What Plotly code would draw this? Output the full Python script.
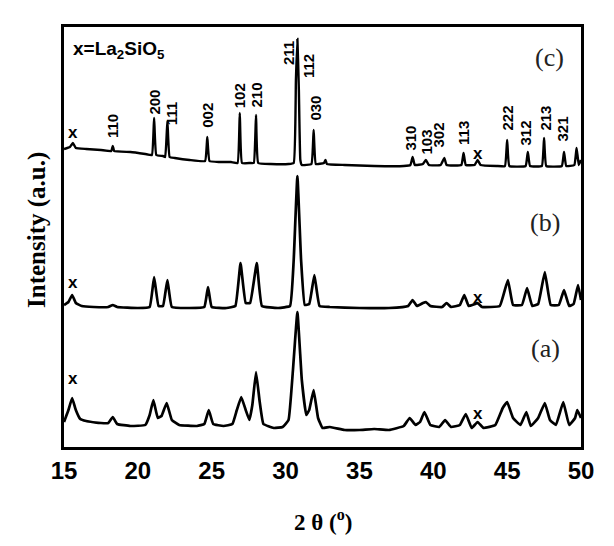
import plotly.graph_objects as go

# 2-theta positions (deg) and intensities (a.u.)
c_x = [15.0, 15.4, 15.6, 15.8, 16.5, 17.5, 18.2, 18.3, 18.4, 19.5, 20.5, 20.95, 21.1, 21.25, 21.7, 21.85, 22.0, 22.15,
       22.5, 23.5, 24.55, 24.7, 24.85, 25.5, 26.3, 26.75, 26.9, 27.05, 27.6, 27.85, 28.0, 28.15, 29.0, 30.2, 30.55,
       30.7, 30.8, 30.9, 31.0, 31.1, 31.75, 31.9, 32.05, 32.6, 32.7, 32.8, 34.0, 36.0, 38.0, 38.45, 38.6, 38.75,
       39.3, 39.5, 39.7, 40.5, 40.75, 40.9, 41.9, 42.05, 42.2, 42.8, 43.0, 43.2, 44.3, 44.85, 45.0, 45.15, 46.25,
       46.4, 46.55, 47.35, 47.5, 47.65, 48.7, 48.85, 49.0, 49.55, 49.7, 49.85, 50.0]
c_y = [298, 300, 304, 299, 298, 297, 296, 301, 296, 295, 293, 292, 329, 292, 291, 290, 326, 290,
       289, 287, 286, 310, 286, 285, 285, 284, 334, 284, 284, 284, 332, 284, 283, 283, 284,
       367, 408, 357, 287, 282, 283, 317, 283, 284, 287, 283, 282, 281, 281, 282, 290, 282,
       283, 287, 282, 282, 289, 282, 282, 294, 282, 282, 287, 282, 281, 281, 307, 281, 281,
       295, 281, 281, 309, 281, 281, 295, 281, 282, 299, 282, 287]

b_x = [15.0, 15.3, 15.55, 15.8, 16.2, 17.0, 18.0, 18.3, 18.6, 20.0, 20.8, 21.1, 21.4, 21.7, 22.0, 22.3, 23.5,
       24.5, 24.75, 25.0, 26.0, 26.6, 26.95, 27.3, 27.6, 28.05, 28.4, 29.5, 30.3, 30.55, 30.8, 31.05, 31.3,
       31.6, 31.95, 32.3, 33.0, 35.0, 37.0, 38.3, 38.6, 38.9, 39.3, 39.5, 39.8, 40.6, 40.9, 41.2, 41.8, 42.1,
       42.4, 43.0, 43.3, 44.5, 45.05, 45.4, 46.0, 46.35, 46.7, 47.1, 47.55, 47.95, 48.5, 48.85, 49.2, 49.5,
       49.8, 50.0]
b_y = [142, 145, 152, 144, 141, 140, 140, 142, 140, 139, 140, 170, 141, 141, 167, 140, 139,
       140, 160, 140, 139, 141, 184, 144, 144, 184, 141, 139, 141, 187, 271, 187, 142,
       143, 172, 141, 140, 139, 139, 141, 147, 141, 144, 145, 141, 140, 144, 140, 142, 152,
       141, 144, 140, 141, 167, 142, 142, 159, 141, 143, 175, 142, 142, 157, 141, 143,
       162, 147]

a_x = [15.0, 15.3, 15.55, 15.8, 16.1, 16.5, 17.5, 18.0, 18.3, 18.6, 19.5, 20.5, 20.8, 21.05, 21.35, 21.6,
       21.95, 22.3, 22.8, 24.0, 24.5, 24.8, 25.1, 25.8, 26.4, 26.7, 27.0, 27.3, 27.55, 27.75, 28.0, 28.25,
       28.5, 29.2, 29.8, 30.2, 30.5, 30.8, 31.1, 31.4, 31.6, 31.9, 32.2, 32.5, 33.0, 34.0, 35.0, 36.0, 37.0,
       38.0, 38.4, 38.8, 39.1, 39.4, 39.8, 40.4, 40.8, 41.2, 41.8, 42.2, 42.6, 43.0, 43.4, 44.2, 44.7, 45.0,
       45.4, 45.9, 46.3, 46.6, 47.1, 47.55, 47.9, 48.3, 48.8, 49.2, 49.6, 49.75, 50.0]
a_y = [25, 37, 49, 37, 28, 26, 24, 24, 30, 23, 21, 22, 32, 47, 29, 31,
       44, 27, 22, 21, 23, 37, 23, 21, 23, 37, 50, 37, 27, 42, 75, 45,
       23, 19, 20, 27, 77, 135, 67, 32, 37, 57, 29, 19, 20, 17, 17, 18, 17,
       21, 29, 22, 25, 35, 22, 20, 27, 20, 22, 33, 19, 25, 19, 22, 39, 45,
       29, 22, 35, 21, 29, 44, 27, 22, 45, 22, 29, 37, 29]

hkl_labels = ["110", "200", "111", "002", "102", "210", "211", "112", "030",
              "310", "103", "302", "113", "222", "312", "213", "321"]
hkl_x = [18.25, 21.1, 22.3, 24.7, 26.9, 28.0, 30.17, 31.52, 32.0,
         38.43, 39.51, 40.32, 42.01, 44.99, 46.21, 47.57, 48.78]
hkl_y = [307, 330, 320, 317, 337, 337, 380, 367, 324,
         294, 290, 297, 300, 314, 299, 314, 304]

impurity_x = [15.6, 43.0, 15.6, 43.0, 15.6, 43.0]
impurity_y = [315, 294, 165, 150, 69, 34]

sample_labels = ["(c)", "(b)", "(a)"]
sample_y = [390, 225, 99]
sample_x = [47.9, 47.57, 47.57]

fig = go.Figure()
for xs, ys, w in [(a_x, a_y, 2.7), (b_x, b_y, 2.7), (c_x, c_y, 2.4)]:
    fig.add_trace(go.Scatter(x=xs, y=ys, mode="lines",
                             line=dict(color="black", width=w, shape="spline", smoothing=0.3),
                             showlegend=False, hoverinfo="skip"))

bold_sans = dict(family="Liberation Sans, Arial, sans-serif", color="black", weight="bold")
serif = dict(family="Liberation Serif, Times New Roman, serif", color="black", weight="bold")

for lab, x, y in zip(hkl_labels, hkl_x, hkl_y):
    fig.add_annotation(x=x, y=y, text=lab, textangle=-90, showarrow=False,
                       xanchor="center", yanchor="bottom", font=dict(size=15, **bold_sans))

for x, y in zip(impurity_x, impurity_y):
    fig.add_annotation(x=x, y=y, text="x", showarrow=False, xanchor="center", yanchor="middle",
                       font=dict(size=17, **bold_sans))

for lab, x, y in zip(sample_labels, sample_x, sample_y):
    fig.add_annotation(x=x, y=y, text=lab, showarrow=False, xanchor="center", yanchor="middle",
                       font=dict(size=26, family="Liberation Serif, Times New Roman, serif", color="#222"))

fig.add_annotation(xref="paper", yref="paper", x=0.014, y=0.945, xanchor="left", yanchor="middle",
                   text="x=La<sub>2</sub>SiO<sub>5</sub>", showarrow=False, font=dict(size=19, **bold_sans))

fig.add_annotation(xref="paper", yref="paper", x=-0.052, y=0.517, xanchor="center", yanchor="middle",
                   text="Intensity (a.u.)", textangle=-90, showarrow=False, font=dict(size=25, **serif))
fig.add_annotation(xref="paper", yref="paper", x=0.5, y=-0.174, xanchor="center", yanchor="middle",
                   text="2 θ (<sup>o</sup>)", showarrow=False, font=dict(size=23, **serif))

fig.update_xaxes(range=[15, 50], tickvals=[15, 20, 25, 30, 35, 40, 45, 50], ticks="",
                 showline=True, mirror=True, linecolor="black", linewidth=2.5,
                 showgrid=False, zeroline=False, tickfont=dict(size=24, **bold_sans))
fig.update_yaxes(range=[0, 420], showticklabels=False, ticks="",
                 showline=True, mirror=True, linecolor="black", linewidth=2.5,
                 showgrid=False, zeroline=False)
fig.update_layout(width=614, height=546, margin=dict(l=64, r=33, t=27, b=99),
                  plot_bgcolor="white", paper_bgcolor="white")

fig.write_html("out.html")
